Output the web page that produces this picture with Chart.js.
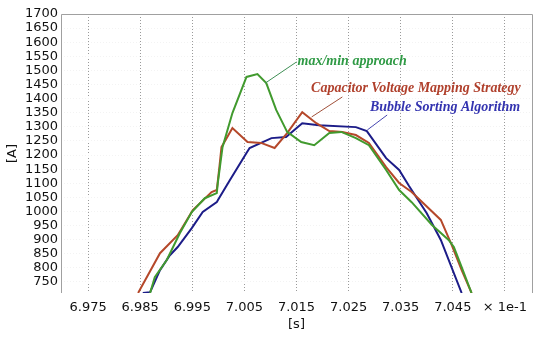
<!DOCTYPE html>
<html>
<head>
<meta charset="utf-8">
<script src="https://cdn.jsdelivr.net/npm/chart.js@4/dist/chart.umd.min.js"></script>
<style>
html,body{margin:0;padding:0;background:#fff;}
#wrap{width:550px;height:339px;position:relative;}
</style>
</head>
<body>
<div id="wrap"><canvas id="c" width="550" height="339"></canvas></div>
<script>
// ---- data ----
const greenX = [6.9869, 6.9878, 6.9901, 6.9926, 6.9949, 6.9974, 6.9997, 6.9999, 7.0008, 7.0027, 7.0054, 7.0075, 7.0092, 7.0111, 7.0132, 7.0159, 7.0184, 7.0213, 7.0236, 7.0264, 7.0289, 7.0322, 7.0347, 7.0371, 7.0410, 7.0442, 7.0452, 7.0467, 7.0486];
const greenY = [711, 767, 828, 923, 998, 1047, 1065, 1101, 1228, 1349, 1477, 1487, 1455, 1360, 1282, 1246, 1235, 1278, 1282, 1260, 1235, 1147, 1076, 1033, 952, 899, 874, 803, 711];

const redX = [6.9846, 6.9888, 6.9922, 6.9951, 6.9987, 6.9997, 7.0002, 7.0006, 7.0027, 7.0056, 7.0082, 7.0108, 7.0132, 7.0161, 7.0188, 7.0213, 7.0238, 7.0264, 7.0289, 7.0322, 7.0347, 7.0371, 7.0427, 7.0448, 7.0467, 7.0486];
const redY = [711, 852, 916, 1005, 1069, 1076, 1157, 1228, 1296, 1246, 1243, 1225, 1278, 1352, 1313, 1285, 1282, 1271, 1243, 1157, 1101, 1069, 970, 881, 792, 711];

const blueX = [6.9855, 6.9869, 6.9888, 6.9907, 6.9922, 6.9949, 6.9970, 6.9997, 6.9999, 7.0022, 7.0054, 7.0060, 7.0102, 7.0130, 7.0161, 7.0193, 7.0264, 7.0285, 7.0322, 7.0347, 7.0366, 7.0400, 7.0427, 7.0467];
const blueY = [711, 714, 792, 845, 874, 941, 998, 1033, 1040, 1111, 1207, 1225, 1260, 1264, 1313, 1306, 1299, 1285, 1189, 1147, 1090, 994, 899, 711];

const xTickValues = [6.975, 6.985, 6.995, 7.005, 7.015, 7.025, 7.035, 7.045, 7.055];
const xTickLabels = ['6.975', '6.985', '6.995', '7.005', '7.015', '7.025', '7.035', '7.045', '\u00d7 1e-1'];
const yTickValues = [750, 800, 850, 900, 950, 1000, 1050, 1100, 1150, 1200, 1250, 1300, 1350, 1400, 1450, 1500, 1550, 1600, 1650, 1700];

// annotation labels (data coordinates)
const labelTexts = ['max/min approach', 'Capacitor Voltage Mapping Strategy', 'Bubble Sorting Algorithm'];
const labelX = [7.0152, 7.0178, 7.0291];
const labelY = [1533, 1438, 1370];
const leaderFromX = [7.0150, 7.0238, 7.0324];
const leaderFromY = [1530, 1406, 1342];
const leaderToX = [7.0090, 7.0179, 7.0286];
const leaderToY = [1455, 1335, 1289];
const labelColors = ['#2f9a45', '#b0402c', '#3434b0'];
const leaderColors = ['#3f8f55', '#a0503a', '#4646b0'];

const toPts = (xs, ys) => xs.map((x, i) => ({x: x, y: ys[i]}));

const framePlugin = {
  id: 'frame',
  afterDraw(chart) {
    const {ctx, chartArea: a} = chart;
    ctx.save();
    ctx.strokeStyle = '#a0a0a0';
    ctx.lineWidth = 1;
    ctx.beginPath();
    ctx.moveTo(a.left + 0.5, a.bottom);
    ctx.lineTo(a.left + 0.5, a.top + 0.5);
    ctx.lineTo(a.right + 0.5, a.top + 0.5);
    ctx.lineTo(a.right + 0.5, a.bottom);
    ctx.stroke();
    // annotations
    const xs = chart.scales.x, ys = chart.scales.y;
    ctx.font = 'bold italic 14px "Liberation Serif", "Times New Roman", serif';
    ctx.textBaseline = 'middle';
    ctx.textAlign = 'left';
    for (let i = 0; i < labelTexts.length; i++) {
      ctx.strokeStyle = leaderColors[i];
      ctx.lineWidth = 1;
      ctx.beginPath();
      ctx.moveTo(xs.getPixelForValue(leaderFromX[i]), ys.getPixelForValue(leaderFromY[i]));
      ctx.lineTo(xs.getPixelForValue(leaderToX[i]), ys.getPixelForValue(leaderToY[i]));
      ctx.stroke();
      ctx.fillStyle = labelColors[i];
      ctx.fillText(labelTexts[i], xs.getPixelForValue(labelX[i]), ys.getPixelForValue(labelY[i]));
    }
    ctx.restore();
  }
};

const tickFont = {family: '"DejaVu Sans", Verdana, sans-serif', size: 13};

new Chart(document.getElementById('c'), {
  type: 'line',
  data: {
    datasets: [
      {label: 'max/min approach', data: toPts(greenX, greenY), borderColor: '#419a2e', borderWidth: 2, pointRadius: 0, tension: 0, fill: false},
      {label: 'Capacitor Voltage Mapping Strategy', data: toPts(redX, redY), borderColor: '#b5482a', borderWidth: 2, pointRadius: 0, tension: 0, fill: false},
      {label: 'Bubble Sorting Algorithm', data: toPts(blueX, blueY), borderColor: '#1c1c88', borderWidth: 2, pointRadius: 0, tension: 0, fill: false}
    ]
  },
  options: {
    responsive: false,
    animation: false,
    layout: {padding: {left: 5, right: 18, top: 14, bottom: 7}},
    plugins: {legend: {display: false}, tooltip: {enabled: false}},
    scales: {
      x: {
        type: 'linear', min: 6.9698, max: 7.0602,
        afterBuildTicks: (axis) => { axis.ticks = xTickValues.map(v => ({value: v})); },
        afterFit: (axis) => { axis.height = 39; },
        ticks: {
          autoSkip: false, maxRotation: 0, padding: 7, color: '#111', font: tickFont,
          callback: (v) => { const i = xTickValues.findIndex(t => Math.abs(t - v) < 1e-6); return i >= 0 ? xTickLabels[i] : ''; }
        },
        grid: {color: '#9a9a9a', lineWidth: 1, drawTicks: false},
        border: {display: false, dash: [1, 2]},
        title: {display: true, text: '[s]', color: '#111', font: tickFont, padding: {top: 0, bottom: 0}}
      },
      y: {
        type: 'linear', min: 711, max: 1700,
        afterBuildTicks: (axis) => { axis.ticks = yTickValues.map(v => ({value: v})); },
        afterFit: (axis) => { axis.width = 56; },
        ticks: {autoSkip: false, padding: 3, color: '#111', font: tickFont, callback: (v) => String(v)},
        grid: {color: '#f3f3f3', lineWidth: 1, drawTicks: false},
        border: {display: false, dash: [1, 2]},
        title: {display: true, text: '[A]', color: '#111', font: tickFont, padding: {top: 0, bottom: 0}}
      }
    }
  },
  plugins: [framePlugin]
});
</script>
</body>
</html>
